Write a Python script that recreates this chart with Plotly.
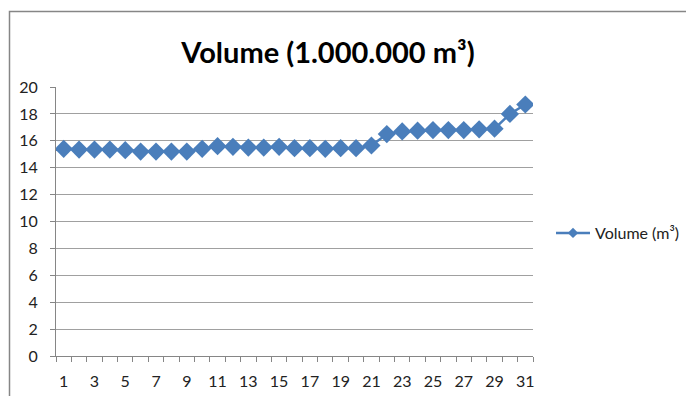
import plotly.graph_objects as go

days = list(range(1, 32))
volume = [15.4, 15.35, 15.35, 15.35, 15.3, 15.2, 15.2, 15.2, 15.2, 15.4,
          15.6, 15.55, 15.5, 15.5, 15.55, 15.45, 15.45, 15.4, 15.45, 15.45,
          15.65, 16.5, 16.7, 16.75, 16.8, 16.8, 16.8, 16.85, 16.9, 18.0, 18.7]
x_tick_labels = [str(d) for d in range(1, 32, 2)]
y_ticks = list(range(0, 21, 2))

OFF = 8  # page body margin
W, H = 694 - OFF, 396 - OFF
L, T = 56 - OFF, 87 - OFF
R = W - (533 - OFF)
B = H - (356 - OFF)
pw, ph = W - L - R, H - T - B

def px_x(p):  # page pixel -> paper
    return (p - OFF - L) / pw

def px_y(p):
    return (H - B - (p - OFF)) / ph

FONT = "Lato, 'Open Sans', sans-serif"
BLUE = "#4A7EBB"

fig = go.Figure()
fig.add_trace(go.Scatter(
    x=days, y=volume, mode="lines+markers", name="Volume (m³)", showlegend=False,
    line=dict(color=BLUE, width=2.5),
    marker=dict(symbol="diamond", size=14, color=BLUE),
))
fig.add_trace(go.Scatter(
    x=[None], y=[None], mode="lines+markers", name="Volume (m³)", showlegend=True,
    line=dict(color=BLUE, width=2.5),
    marker=dict(symbol="diamond", size=8, color=BLUE),
))

fig.update_layout(
    width=W, height=H,
    margin=dict(l=L, r=R, t=T, b=B, autoexpand=False),
    paper_bgcolor="white", plot_bgcolor="white",
    font=dict(family=FONT, color="#222", size=16),
    title=dict(text="<b>Volume (1.000.000 m³)</b>", x=(328 - OFF) / W, xanchor="center",
               y=1 - (53 - OFF) / H, yanchor="middle", yref="container", xref="container",
               font=dict(size=29, color="#000", family=FONT)),
    showlegend=True,
    legend=dict(x=(551 - OFF) / W, y=1 - (233 - OFF) / H, xref="container", yref="container",
                xanchor="left", yanchor="middle",
                font=dict(size=16, color="#222"), bgcolor="rgba(0,0,0,0)",
                itemwidth=34),
    xaxis=dict(range=[0.5, 31.5], tickvals=list(range(1, 32, 2)), ticktext=x_tick_labels,
               ticks="", showgrid=False, showline=True, linecolor="#868686", linewidth=1,
               zeroline=False, fixedrange=True, tickfont=dict(size=16),
               ticklabelstandoff=11, automargin=False,
               minor=dict(tickvals=[i + 0.5 for i in range(0, 32)], ticks="outside",
                          ticklen=5, tickcolor="#868686", showgrid=False)),
    yaxis=dict(range=[0, 20], tickvals=y_ticks, ticks="outside", ticklen=5,
               tickcolor="#868686", showgrid=True, gridcolor="#A0A0A0", gridwidth=1,
               showline=True, linecolor="#868686", linewidth=1, zeroline=False,
               fixedrange=True, tickfont=dict(size=16), ticklabelstandoff=9,
               automargin=False),
)

fig.add_shape(type="rect", xref="paper", yref="paper",
              x0=px_x(9.5), x1=px_x(720), y0=px_y(420), y1=px_y(11.5),
              line=dict(color="#868686", width=1.5), fillcolor="rgba(0,0,0,0)", layer="below")

fig.write_html("out.html")
